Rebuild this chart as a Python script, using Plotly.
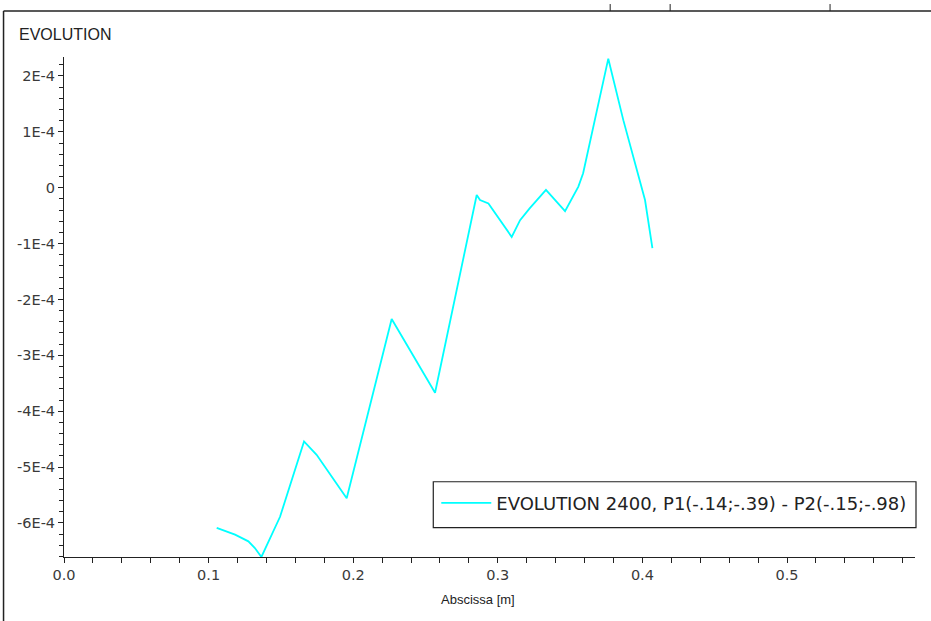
import plotly.graph_objects as go

# Data
abscissa = [0.1056, 0.1183, 0.1275, 0.1320, 0.1365, 0.1494, 0.1660, 0.1747, 0.1955,
            0.2266, 0.2566, 0.2854, 0.2877, 0.2935, 0.3096, 0.3154, 0.3220, 0.3333,
            0.3465, 0.3557, 0.3590, 0.3764, 0.3868, 0.4018, 0.4069]
evolution = [-6.09e-4, -6.21e-4, -6.33e-4, -6.45e-4, -6.61e-4, -5.89e-4, -4.54e-4, -4.78e-4, -5.56e-4,
             -2.35e-4, -3.67e-4, -0.13e-4, -0.22e-4, -0.28e-4, -0.88e-4, -0.58e-4, -0.37e-4, -0.04e-4,
             -0.42e-4, 0.02e-4, 0.26e-4, 2.31e-4, 1.21e-4, -0.22e-4, -1.08e-4]

series_name = "EVOLUTION 2400, P1(-.14;-.39) - P2(-.15;-.98)"
chart_title = "EVOLUTION"
x_title = "Abscissa [m]"

y_tickvals = [-6e-4, -5e-4, -4e-4, -3e-4, -2e-4, -1e-4, 0, 1e-4, 2e-4]
y_ticktext = ["-6E-4", "-5E-4", "-4E-4", "-3E-4", "-2E-4", "-1E-4", "0", "1E-4", "2E-4"]
x_tickvals = [0.0, 0.1, 0.2, 0.3, 0.4, 0.5]
x_ticktext = ["0.0", "0.1", "0.2", "0.3", "0.4", "0.5"]

W, H = 931, 621
# plot area in window pixels
PL, PR, PT, PB = 63.5, 915, 57, 557.3
L, T = PL, PT
R, B = W - PR, H - PB
pw, ph = W - L - R, H - T - B

def px(x):
    return (x - L) / pw

def py(y):
    return (H - B - y) / ph

fig = go.Figure()
fig.add_trace(go.Scatter(x=abscissa, y=evolution, mode="lines", name=series_name,
                         line=dict(color="#00FFFF", width=1.8)))

font_lab = dict(family="DejaVu Sans, sans-serif", size=14.5, color="#3a3a3a")

fig.update_layout(
    width=W, height=H,
    margin=dict(l=L, r=R, t=T, b=B, autoexpand=False),
    paper_bgcolor="white", plot_bgcolor="white",
    showlegend=True,
    legend=dict(x=px(436), y=py(485), xanchor="left", yanchor="top",
                borderwidth=0, bgcolor="rgba(0,0,0,0)",
                font=dict(family="DejaVu Sans, sans-serif", size=18, color="#222222"),
                itemwidth=50),
    xaxis=dict(range=[0, 0.5885], showgrid=False, zeroline=False, automargin=False,
               showline=True, linecolor="#222222", linewidth=1,
               ticks="outside", ticklen=5, tickcolor="#222222",
               tickvals=x_tickvals, ticktext=x_ticktext, tickfont=font_lab,
               minor=dict(dtick=0.02, tick0=0, ticks="outside", ticklen=5, tickcolor="#222222")),
    yaxis=dict(range=[-6.61e-4, 2.34e-4], showgrid=False, zeroline=False, automargin=False,
               showline=True, linecolor="#222222", linewidth=1,
               ticks="outside", ticklen=5, tickcolor="#222222",
               tickvals=y_tickvals, ticktext=y_ticktext, tickfont=font_lab,
               minor=dict(dtick=2e-5, tick0=0, ticks="outside", ticklen=4, tickcolor="#222222")),
    annotations=[
        dict(text=chart_title, xref="paper", yref="paper", x=px(16), y=py(34),
             xanchor="left", yanchor="middle", showarrow=False,
             font=dict(family="Liberation Sans, Arial, sans-serif", size=16, color="#222222")),
        dict(text=x_title, xref="paper", yref="paper", x=px(478), y=py(600),
             xanchor="center", yanchor="middle", showarrow=False,
             font=dict(family="Liberation Sans, Arial, sans-serif", size=13, color="#222222")),
    ],
    shapes=[
        # legend frame
        dict(type="rect", xref="paper", yref="paper", x0=px(433), x1=px(916), y0=py(482), y1=py(528),
             line=dict(color="#222222", width=1.2), fillcolor="rgba(0,0,0,0)", layer="above"),
        # outer frame pieces
        dict(type="line", xref="paper", yref="paper", x0=px(3), x1=px(940), y0=py(11), y1=py(11),
             line=dict(color="#222222", width=1.5)),
        dict(type="line", xref="paper", yref="paper", x0=px(3), x1=px(3), y0=py(11), y1=py(630),
             line=dict(color="#222222", width=1.5)),
        dict(type="line", xref="paper", yref="paper", x0=px(610), x1=px(610), y0=py(4), y1=py(11),
             line=dict(color="#222222", width=1)),
        dict(type="line", xref="paper", yref="paper", x0=px(670), x1=px(670), y0=py(4), y1=py(11),
             line=dict(color="#222222", width=1)),
        dict(type="line", xref="paper", yref="paper", x0=px(830), x1=px(830), y0=py(4), y1=py(11),
             line=dict(color="#222222", width=1)),
    ],
)

fig.write_html("out.html", config={"displayModeBar": False},
               post_script="document.body.style.margin='0px';")
